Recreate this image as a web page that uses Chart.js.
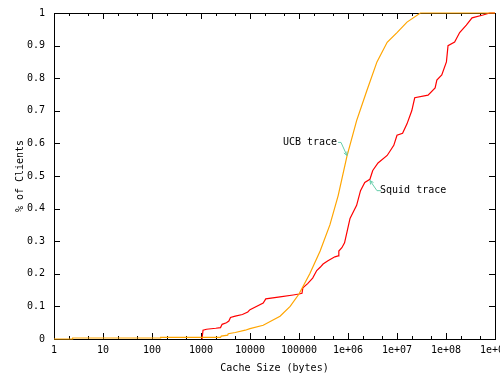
<!DOCTYPE html>
<html>
<head>
<meta charset="utf-8">
<script src="https://cdn.jsdelivr.net/npm/chart.js@4/dist/chart.umd.min.js"></script>
<style>
  html, body { margin: 0; padding: 0; background: #fff; }
  canvas { display: block; }
</style>
</head>
<body>
<canvas id="cdf" width="500" height="386"></canvas>
<script>
// Cache size (bytes) vs fraction of clients
const ucbX = [1, 2.4, 2.4, 150, 150, 2500, 2600, 3500, 3600, 5000, 8000, 10000, 18600, 41000, 66000, 100000, 166000, 270000, 427000, 630000, 950000, 1.5e6, 2.4e6, 3.9e6, 6.3e6, 1e7, 1.6e7, 3e7, 1e9];
const ucbY = [0, 0, 0.003, 0.003, 0.005, 0.005, 0.009, 0.012, 0.016, 0.02, 0.027, 0.032, 0.042, 0.07, 0.10, 0.138, 0.2, 0.27, 0.35, 0.44, 0.56, 0.67, 0.76, 0.85, 0.91, 0.94, 0.972, 1.0, 1.0];

const squidX = [1050, 1100, 1300, 2000, 2500, 2700, 3300, 3700, 4000, 5000, 7000, 9000, 10000, 18600, 21000, 41000, 76000, 100000, 115000, 120000, 150000, 190000, 230000, 270000, 310000, 390000, 540000, 630000, 650000, 750000, 850000, 960000, 1.1e6, 1.5e6, 1.8e6, 2.2e6, 2.8e6, 3.2e6, 4.1e6, 6.3e6, 8.6e6, 1e7, 1.3e7, 1.6e7, 2e7, 2.3e7, 4.3e7, 6e7, 6.5e7, 8.2e7, 1.02e8, 1.1e8, 1.5e8, 1.9e8, 2.6e8, 3.4e8, 5.7e8, 7.8e8, 1e9];
const squidY = [0, 0.027, 0.03, 0.033, 0.035, 0.045, 0.05, 0.055, 0.066, 0.07, 0.075, 0.083, 0.09, 0.11, 0.123, 0.129, 0.135, 0.138, 0.14, 0.157, 0.17, 0.187, 0.21, 0.22, 0.23, 0.24, 0.252, 0.255, 0.27, 0.28, 0.295, 0.33, 0.37, 0.41, 0.455, 0.48, 0.49, 0.517, 0.54, 0.563, 0.594, 0.625, 0.631, 0.66, 0.70, 0.74, 0.748, 0.77, 0.794, 0.81, 0.85, 0.90, 0.911, 0.94, 0.963, 0.985, 0.994, 1.0, 1.0];

const xMajor = [1, 10, 100, 1000, 10000, 100000, 1e6, 1e7, 1e8, 1e9];
const xLabels = ["1", "10", "100", "1000", "10000", "100000", "1e+06", "1e+07", "1e+08", "1e+09"];
const yTicks = [0, 0.1, 0.2, 0.3, 0.4, 0.5, 0.6, 0.7, 0.8, 0.9, 1];
const yLabels = ["0", "0.1", "0.2", "0.3", "0.4", "0.5", "0.6", "0.7", "0.8", "0.9", "1"];

// labels with arrows: text anchor, elbow, arrow tip (data coords)
const notes = [
  { text: "UCB trace", at: [47000, 0.603], elbow: [7.2e5, 0.603], tip: [9.5e5, 0.563], align: "left", gap: 1 },
  { text: "Squid trace", at: [4.5e6, 0.455], elbow: [3.9e6, 0.455], tip: [2.81e6, 0.486], align: "left", gap: -1 }
];

const FONT = "10px 'DejaVu Sans Mono'";
const NOTE_COLOR = "#66cdaa";

function toPts(xs, ys) {
  return xs.map((x, i) => ({ x: x, y: ys[i] }));
}

const frame = {
  id: "frame",
  beforeDatasetsDraw(chart) {
    const { ctx, chartArea: a, scales: { x, y } } = chart;
    ctx.save();
    ctx.strokeStyle = "#000";
    ctx.lineWidth = 1;
    ctx.strokeRect(a.left + 0.5, a.top + 0.5, a.right - a.left, a.bottom - a.top);
    ctx.beginPath();
    // y ticks, both sides
    yTicks.forEach(v => {
      const py = Math.round(y.getPixelForValue(v)) + 0.5;
      ctx.moveTo(a.left, py); ctx.lineTo(a.left + 6, py);
      ctx.moveTo(a.right, py); ctx.lineTo(a.right - 6, py);
    });
    // x ticks, bottom and top; minors at 2 and 5
    xMajor.forEach(v => {
      [1, 2, 5].forEach(m => {
        const val = v * m;
        if (val > 1e9) return;
        const len = m === 1 ? 6 : 3;
        const px = Math.round(x.getPixelForValue(val)) + 0.5;
        ctx.moveTo(px, a.bottom); ctx.lineTo(px, a.bottom - len);
        ctx.moveTo(px, a.top); ctx.lineTo(px, a.top + len);
      });
    });
    ctx.stroke();
    ctx.restore();
  },
  afterDraw(chart) {
    const { ctx, chartArea: a, scales: { x, y } } = chart;
    ctx.save();
    ctx.font = FONT;
    ctx.fillStyle = "#000";
    // y tick labels
    ctx.textAlign = "right";
    ctx.textBaseline = "middle";
    yTicks.forEach((v, i) => ctx.fillText(yLabels[i], a.left - 9, y.getPixelForValue(v)));
    // x tick labels
    ctx.textAlign = "center";
    xMajor.forEach((v, i) => ctx.fillText(xLabels[i], x.getPixelForValue(v), 350));
    // axis titles
    ctx.fillText("Cache Size (bytes)", (a.left + a.right) / 2, 368);
    ctx.save();
    ctx.translate(20, (a.top + a.bottom) / 2);
    ctx.rotate(-Math.PI / 2);
    ctx.fillText("% of Clients", 0, 0);
    ctx.restore();

    // annotations
    notes.forEach(n => {
      const tx = x.getPixelForValue(n.at[0]), ty = y.getPixelForValue(n.at[1]);
      ctx.fillStyle = "#000";
      ctx.textAlign = n.align;
      ctx.fillText(n.text, tx, ty);
      const w = ctx.measureText(n.text).width;
      const sx = n.gap > 0 ? tx + w + 1 : tx + 1;
      const ex = x.getPixelForValue(n.elbow[0]), ey = y.getPixelForValue(n.elbow[1]);
      const px = x.getPixelForValue(n.tip[0]), py = y.getPixelForValue(n.tip[1]);
      ctx.strokeStyle = NOTE_COLOR;
      ctx.lineWidth = 1;
      ctx.beginPath();
      ctx.moveTo(sx, ty);
      ctx.lineTo(ex, ey);
      ctx.lineTo(px, py);
      const ang = Math.atan2(py - ey, px - ex);
      const h = 4;
      ctx.moveTo(px, py);
      ctx.lineTo(px - h * Math.cos(ang - 0.45), py - h * Math.sin(ang - 0.45));
      ctx.moveTo(px, py);
      ctx.lineTo(px - h * Math.cos(ang + 0.45), py - h * Math.sin(ang + 0.45));
      ctx.stroke();
    });
    ctx.restore();
  }
};

new Chart(document.getElementById("cdf"), {
  type: "line",
  data: {
    datasets: [
      {
        label: "UCB trace",
        data: toPts(ucbX, ucbY),
        borderColor: "#ffa500",
        borderWidth: 1.2,
        pointRadius: 0,
        tension: 0,
        clip: false
      },
      {
        label: "Squid trace",
        data: toPts(squidX, squidY),
        borderColor: "#ff0000",
        borderWidth: 1.2,
        pointRadius: 0,
        tension: 0,
        clip: false
      }
    ]
  },
  options: {
    responsive: false,
    animation: false,
    devicePixelRatio: 1,
    layout: { padding: { left: 54, right: 5, top: 13, bottom: 47 } },
    plugins: { legend: { display: false }, tooltip: { enabled: false } },
    scales: {
      x: { type: "logarithmic", min: 1, max: 1e9, display: false },
      y: { type: "linear", min: 0, max: 1, display: false }
    }
  },
  plugins: [frame]
});
</script>
</body>
</html>
